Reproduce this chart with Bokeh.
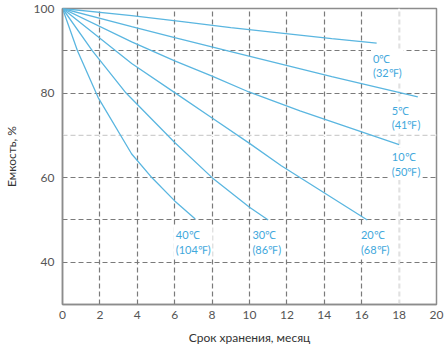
from bokeh.plotting import figure
from bokeh.models import Range1d, FixedTicker, ColumnDataSource
from bokeh.core.properties import value
from bokeh.embed import file_html
from bokeh.resources import INLINE

# Data: capacity (%) vs storage time (months)
x_0c = [0, 3.7, 6.4, 9.0, 14.4, 16.8]
y_0c = [100, 98.3, 96.9, 95.5, 92.9, 91.8]
x_5c = [0, 3.7, 6.0, 9.0, 14.4, 19.0]
y_5c = [100, 95.7, 93.1, 89.8, 83.9, 79.1]
x_10c = [0, 3.7, 6.0, 8.0, 10.0, 12.7, 18.0]
y_10c = [100, 92.1, 87.6, 84.0, 80.2, 75.8, 67.8]
x_20c = [0, 3.7, 6.0, 8.0, 10.0, 11.7, 16.3]
y_20c = [100, 87.0, 80.1, 74.1, 68.1, 62.8, 50.0]
x_30c = [0, 1.6, 3.4, 6.0, 8.0, 10.0, 11.0]
y_30c = [100, 90.0, 80.0, 68.3, 60.0, 53.0, 50.0]
x_40c = [0, 0.8, 1.9, 3.7, 4.8, 6.0, 7.1]
y_40c = [100, 90.0, 79.0, 65.6, 59.9, 54.5, 50.2]

series = [(x_0c, y_0c), (x_5c, y_5c), (x_10c, y_10c),
          (x_20c, y_20c), (x_30c, y_30c), (x_40c, y_40c)]

labels = ["0\u2103\n(32\u2109)", "5\u2103\n(41\u2109)", "10\u2103\n(50\u2109)",
          "20\u2103\n(68\u2109)", "30\u2103\n(86\u2109)", "40\u2103\n(104\u2109)"]
label_x = [16.5, 17.5, 17.5, 15.85, 10.05, 5.95]
label_y = [90.3, 78.0, 67.0, 48.6, 48.6, 48.6]

x_ticks = [0, 2, 4, 6, 8, 10, 12, 14, 16, 18, 20]
y_ticks = [40, 60, 80, 100]
x_grid = [2, 4, 6, 8, 10, 12, 14, 16, 18]
y_grid = [40, 50, 60, 70, 80, 90]

line_color = "#5ab6e0"
text_color = "#3fa8dc"
grid_color = "#7a7a7a"
font = "Lato"

p = figure(width=447, height=351, output_backend="svg", toolbar_location=None,
           x_range=Range1d(0, 20), y_range=Range1d(30, 100))
p.min_border_left = 60
p.min_border_right = 11
p.min_border_top = 8
p.min_border_bottom = 47
p.background_fill_color = "white"
p.border_fill_color = "white"
p.outline_line_color = "#8c8c8c"
p.outline_line_width = 1.5

# grid
p.xgrid.ticker = FixedTicker(ticks=x_grid)
p.ygrid.ticker = FixedTicker(ticks=y_grid)
for g in (p.xgrid, p.ygrid):
    g.grid_line_color = grid_color
    g.grid_line_dash = "5 3"
    g.grid_line_width = 1.2

# light grid lines (y=70, x=18)
p.segment(x0=[0], y0=[70], x1=[20], y1=[70], line_color="white", line_width=2)
p.segment(x0=[0], y0=[70], x1=[20], y1=[70], line_color="#cfcfcf", line_width=1.2, line_dash="5 3")
p.segment(x0=[18], y0=[30], x1=[18], y1=[100], line_color="white", line_width=2)
p.segment(x0=[18], y0=[30], x1=[18], y1=[100], line_color="#d4d4d4", line_width=1.2, line_dash="5 3")

for xs, ys in series:
    p.line(xs, ys, line_color=line_color, line_width=1.3)

src = ColumnDataSource(dict(x=label_x, y=label_y, t=labels))
p.text(x="x", y="y", text="t", source=src, text_color=text_color,
       text_font=value(font), text_font_size="11px", text_align="left",
       text_baseline="top", text_line_height=1.15,
       background_fill_color="white", padding=2)

# axes
p.xaxis.ticker = FixedTicker(ticks=x_ticks)
p.yaxis.ticker = FixedTicker(ticks=y_ticks)
for ax in (p.xaxis, p.yaxis):
    ax.axis_line_color = "#8c8c8c"
    ax.axis_line_width = 1.5
    ax.major_tick_in = 0
    ax.major_tick_out = 0
    ax.minor_tick_line_color = None
    ax.major_label_text_font = font
    ax.major_label_text_font_size = "12px"
    ax.major_label_text_color = "#555555"
    ax.axis_label_text_font = font
    ax.axis_label_text_font_size = "12px"
    ax.axis_label_text_font_style = "normal"
    ax.axis_label_text_color = "#333333"
p.xaxis.axis_label = "Срок хранения, месяц"
p.yaxis.axis_label = "Емкость, %"
p.xaxis.major_label_standoff = 6
p.yaxis.major_label_standoff = 8
p.xaxis.axis_label_standoff = 8
p.yaxis.axis_label_standoff = 12

open("out.html", "w").write(file_html(p, INLINE))
